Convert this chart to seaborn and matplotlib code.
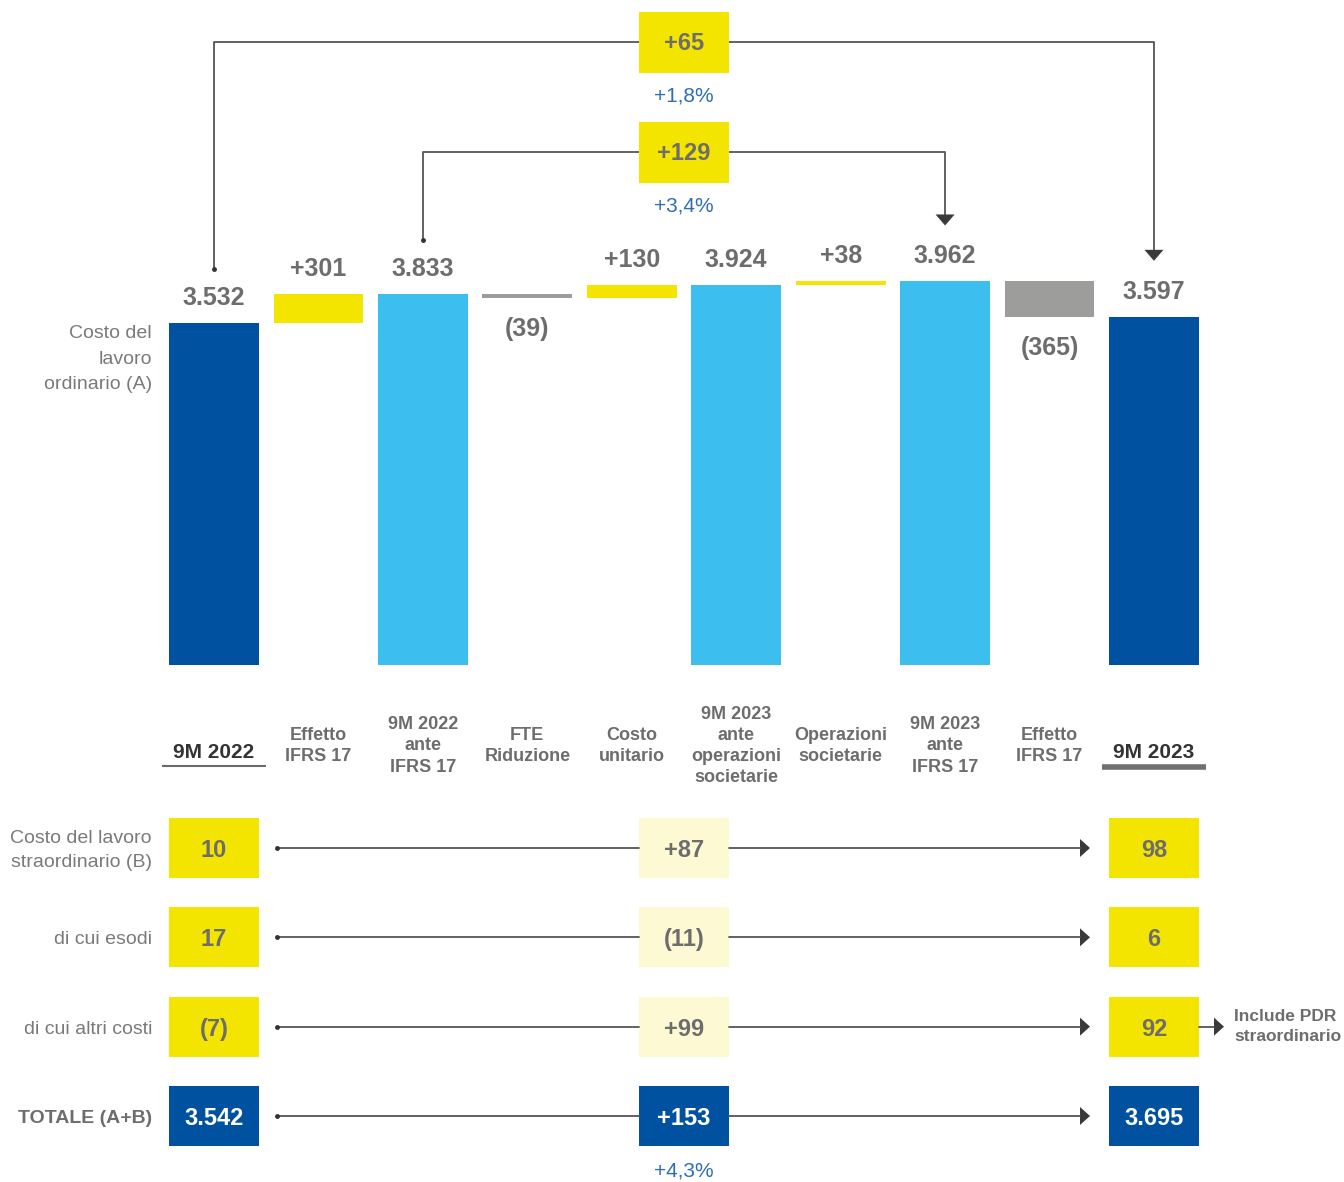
import numpy as np
import seaborn as sns
import matplotlib.pyplot as plt
from matplotlib.patches import Rectangle
from matplotlib.transforms import blended_transform_factory

# Waterfall: costo del lavoro ordinario (A)
steps = ["9M 2022", "Effetto\nIFRS 17", "9M 2022\nante\nIFRS 17", "FTE\nRiduzione",
         "Costo\nunitario", "9M 2023\nante\noperazioni\nsocietarie", "Operazioni\nsocietarie",
         "9M 2023\nante\nIFRS 17", "Effetto\nIFRS 17", "9M 2023"]
values = [3532, 301, 3833, -39, 130, 3924, 38, 3962, -365, 3597]
kinds = ["total", "delta", "subtotal", "delta", "delta",
         "subtotal", "delta", "subtotal", "delta", "total"]

# brackets above the bars
bridge_from = [0, 2]
bridge_to = [9, 7]
bridge_delta = [65, 129]
bridge_pct = ["+1,8%", "+3,4%"]

# lower table
row_labels = ["Costo del lavoro\nstraordinario (B)", "di cui esodi", "di cui altri costi", "TOTALE (A+B)"]
start_2022 = [10, 17, -7, 3542]
change = [87, -11, 99, 153]
end_2023 = [98, 6, 92, 3695]
total_pct = "+4,3%"
note = "Include PDR\nstraordinario"

DARK = "#0052A0"
LIGHT = "#3CBFEE"
YEL = "#F4E500"
GREY = "#9D9D9C"
PALE = "#FDF9D3"
TXT = "#6D6D6D"
BLUE_TXT = "#2F6EB5"
LINE = "#555555"

sns.set_style("white")
plt.rcParams['font.family'] = ['Liberation Sans', 'DejaVu Sans']

W, H = 1344, 1182
fig = plt.figure(figsize=(W / 100, H / 100), dpi=100)


def fmt(v, sign=False):
    s = f"{abs(v):,}".replace(",", ".")
    if v < 0:
        return f"({s})"
    return "+" + s if sign else s


# build floating bars
bottoms, heights, colors, labels = [], [], [], []
run = 0
for k, v in zip(kinds, values):
    if k == "delta":
        bottoms.append(run + min(v, 0))
        heights.append(abs(v))
        run += v
        colors.append(YEL if v > 0 else GREY)
        labels.append(fmt(v, sign=True))
    else:
        bottoms.append(0)
        heights.append(v)
        run = v
        colors.append(DARK if k == "total" else LIGHT)
        labels.append(fmt(v))

# waterfall axes, baseline at y=665px
step = 104.44
x0 = 214
base_px = 665
px_per_unit = 0.0968
ax = fig.add_axes([(x0 - step / 2) / W, 1 - base_px / H, 10 * step / W, base_px / H])
sns.barplot(x=np.arange(len(values)), y=heights, bottom=bottoms, width=0.86,
            errorbar=None, color=DARK, orient="x", ax=ax)
for p, c in zip(ax.patches, colors):
    p.set_facecolor(c)
    p.set_edgecolor("none")
ax.set_xlim(-0.5, len(values) - 0.5)
ax.set_ylim(0, base_px / px_per_unit)
ax.set_xticks([])
ax.set_yticks([])
ax.set(xlabel="", ylabel="")
sns.despine(ax=ax, left=True, bottom=True)

for i, (b, h, k, v, lab) in enumerate(zip(bottoms, heights, kinds, values, labels)):
    if k == "delta" and v < 0:
        ax.annotate(lab, (i, b), xytext=(0, -22.5), textcoords="offset points",
                    ha="center", va="center", fontsize=18, fontweight="bold", color=TXT)
    else:
        ax.annotate(lab, (i, b + h), xytext=(0, 18.2), textcoords="offset points",
                    ha="center", va="center", fontsize=18, fontweight="bold", color=TXT)

# category labels under the bars
blend = blended_transform_factory(ax.transData, fig.transFigure)
for i, (s, k) in enumerate(zip(steps, kinds)):
    if k == "total":
        ax.text(i, 1 - 753 / H, s, transform=blend, ha="center", va="center",
                fontsize=15, fontweight="bold", color="#333333")
    else:
        ax.text(i, 1 - 746 / H, s, transform=blend, ha="center", va="center",
                fontsize=13, fontweight="bold", color=TXT, linespacing=1.32)
tot_idx = [i for i, k in enumerate(kinds) if k == "total"]
ax.plot([tot_idx[0] - 0.5, tot_idx[0] + 0.5], [1 - 766 / H] * 2, transform=blend,
        color="#6a6a6a", lw=1.5, clip_on=False, solid_capstyle="butt")
ax.plot([tot_idx[1] - 0.5, tot_idx[1] + 0.5], [1 - 767 / H] * 2, transform=blend,
        color="#707070", lw=4, clip_on=False, solid_capstyle="butt")

# overlay in pixel coordinates for brackets
ov = fig.add_axes([0, 0, 1, 1])
ov.set_xlim(0, W)
ov.set_ylim(H, 0)
ov.axis("off")
ov.patch.set_visible(False)

ov.text(152, 359, "Costo del\nlavoro\nordinario (A)", ha="right", va="center",
        fontsize=14, color="#7a7a7a", linespacing=1.68)

levels = [42, 152]
for f, t, d, pct, yh in zip(bridge_from, bridge_to, bridge_delta, bridge_pct, levels):
    xf = x0 + step * f
    xt = x0 + step * t
    top_f = base_px - (bottoms[f] + heights[f]) * px_per_unit
    top_t = base_px - (bottoms[t] + heights[t]) * px_per_unit
    yf = top_f - 54
    yt = top_t - 56
    ov.plot([xf, xf, xt, xt], [yf, yh, yh, yt - 10], color=LINE, lw=1.3, zorder=2)
    ov.plot(xf, yf, "o", ms=2.5, color="#333333", zorder=2)
    ov.fill([xt - 9.5, xt + 9.5, xt], [yt - 11, yt - 11, yt], color="#3a3a3a", lw=0, zorder=3)
    cx = (x0 + step * 4 + x0 + step * 5) / 2
    ov.add_patch(Rectangle((cx - 45, yh - 30), 90, 61, color=YEL, lw=0, zorder=4))
    ov.text(cx, yh + 2, fmt(d, sign=True), ha="center", va="center", fontsize=17,
            fontweight="bold", color=TXT, zorder=5)
    ov.text(cx, yh + 54, pct, ha="center", va="center", fontsize=15, color=BLUE_TXT)

# lower table: columns 0,1,2 -> 214, 684, 1154 px; rows every ~89px from 848
col_px = 470
row_px = 89.33
tb = fig.add_axes([0, 0, 1, 1])
tb.set_xlim(-x0 / col_px, (W - x0) / col_px)
tb.set_ylim((H - 848) / row_px, -848 / row_px)
tb.axis("off")
tb.patch.set_visible(False)

hw = 45 / col_px
bh = 60 / row_px
dy = 2.5 / row_px  # optical centring of numbers
for r, (lab, a, d, b) in enumerate(zip(row_labels, start_2022, change, end_2023)):
    total_row = r == len(row_labels) - 1
    fills = [DARK, DARK, DARK] if total_row else [YEL, PALE, YEL]
    tcol = "white" if total_row else TXT
    tb.bar([0, 1, 2], bh, width=2 * hw, bottom=r - bh / 2, color=fills, lw=0)
    for x, txt in zip([0, 1, 2], [fmt(a), fmt(d, sign=True), fmt(b)]):
        tb.text(x, r + dy, txt, ha="center", va="center", fontsize=17, fontweight="bold", color=tcol)
    tb.text(-62 / col_px, r + dy, lab, ha="right", va="center", fontsize=14,
            color=TXT if total_row else "#7a7a7a",
            fontweight="bold" if total_row else "normal", linespacing=1.5)
    xs = hw + 18 / col_px
    tip = 2 - hw - 19 / col_px
    aw = 10 / col_px
    ah = 9 / row_px
    tb.plot([xs, 1 - hw], [r, r], color=LINE, lw=1.3)
    tb.plot(xs, r, "o", ms=2.5, color="#333333")
    tb.plot([1 + hw, tip - aw], [r, r], color=LINE, lw=1.3)
    tb.fill([tip - aw, tip - aw, tip], [r - ah, r + ah, r], color="#3a3a3a", lw=0)

# note on "di cui altri costi"
r_note = 2
tip_n = (1224 - x0) / col_px
tb.plot([2 + hw, tip_n - 10 / col_px], [r_note, r_note], color=LINE, lw=1.3)
tb.fill([tip_n - 10 / col_px, tip_n - 10 / col_px, tip_n],
        [r_note - 9 / row_px, r_note + 9 / row_px, r_note], color="#3a3a3a", lw=0)
tb.text((1234 - x0) / col_px, r_note, note, ha="left", va="center", fontsize=12.5,
        fontweight="bold", color=TXT, linespacing=1.4)
tb.text(1, 3 + 55 / row_px, total_pct, ha="center", va="center", fontsize=15, color=BLUE_TXT)

fig.savefig("out.png", dpi=100)
